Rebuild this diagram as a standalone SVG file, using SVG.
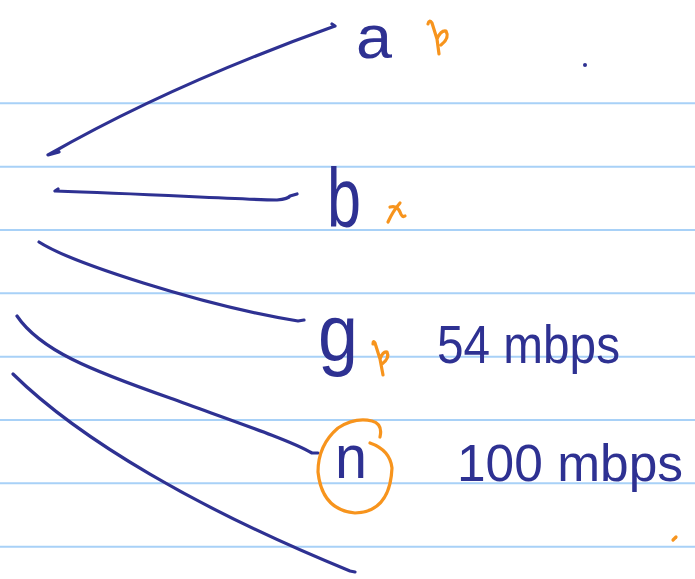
<svg xmlns="http://www.w3.org/2000/svg" width="695" height="579" viewBox="0 0 695 579">
<style>
.rule{stroke:#a8d1f7;stroke-width:2;fill:none}
.ink{stroke:#2e3192;stroke-width:3.2;fill:none;stroke-linecap:round;stroke-linejoin:round}
.mark{stroke:#f7941d;stroke-width:3.2;fill:none;stroke-linecap:round;stroke-linejoin:round}
.hw{font-family:"Liberation Sans","DejaVu Sans",sans-serif;fill:#2e3192}
</style>
<rect width="695" height="579" fill="#ffffff"/>
<g id="rules">
<line class="rule" x1="0" y1="103.3" x2="695" y2="103.3"/>
<line class="rule" x1="0" y1="166.7" x2="695" y2="166.7"/>
<line class="rule" x1="0" y1="230" x2="695" y2="230"/>
<line class="rule" x1="0" y1="293.3" x2="695" y2="293.3"/>
<line class="rule" x1="0" y1="356.7" x2="695" y2="356.7"/>
<line class="rule" x1="0" y1="420" x2="695" y2="420"/>
<line class="rule" x1="0" y1="483.3" x2="695" y2="483.3"/>
<line class="rule" x1="0" y1="546.7" x2="695" y2="546.7"/>
</g>
<g id="connectors">
<path class="ink" d="M332,24 L335,26 Q170,85 48,155 L59,152"/>
<path class="ink" d="M58,189 L55,191 C150,194 230,199 277,200 Q288,199 290,196 L297,194"/>
<path class="ink" d="M39,242 C70,262 200,305 298,321 L304,320"/>
<path class="ink" d="M17,316 C40,350 90,370 170,398 C230,420 290,440 312,453 L318,453"/>
<path class="ink" d="M13,374 C80,440 200,510 350,571 L355,572"/>
</g>
<g id="node-a">
<text class="hw" x="356" y="58" font-size="62" textLength="36" lengthAdjust="spacingAndGlyphs">a</text>
<path class="mark" d="M428,24 Q429,19 432,23 L437,39 M437,39 Q441,30 446,31 Q450,38 441,45 M437,39 L439,54"/>
</g>
<g id="node-b">
<text class="hw" x="327" y="227" font-size="84" textLength="34" lengthAdjust="spacingAndGlyphs">b</text>
<path class="mark" d="M388,222 Q393,211 400,203 M390,207 Q397,205 400,212 Q402,218 405,216"/>
</g>
<g id="node-g">
<text class="hw" x="318" y="360" font-size="80" textLength="40" lengthAdjust="spacingAndGlyphs">g</text>
<path class="mark" d="M373,344 Q373,340 375,343 L380,359 M380,359 Q383,351 387,352 Q390,358 382,364 M380,359 L383,375"/>
<text class="hw" x="437" y="363" font-size="54" textLength="183" lengthAdjust="spacingAndGlyphs">54 mbps</text>
</g>
<g id="node-n">
<text class="hw" x="335" y="478" font-size="62" textLength="32" lengthAdjust="spacingAndGlyphs">n</text>
<path class="mark" d="M380,437 Q383,424 372,421 Q355,417 338,428 Q318,445 318,472 Q322,510 355,513 Q390,512 392,468 Q390,450 370,443"/>
<text class="hw" x="457" y="481" font-size="52" textLength="226" lengthAdjust="spacingAndGlyphs">100 mbps</text>
</g>
<circle cx="585" cy="65" r="2" fill="#2e3192"/>
<path class="mark" d="M673,540 L676,537" stroke-width="2.5"/>
</svg>
